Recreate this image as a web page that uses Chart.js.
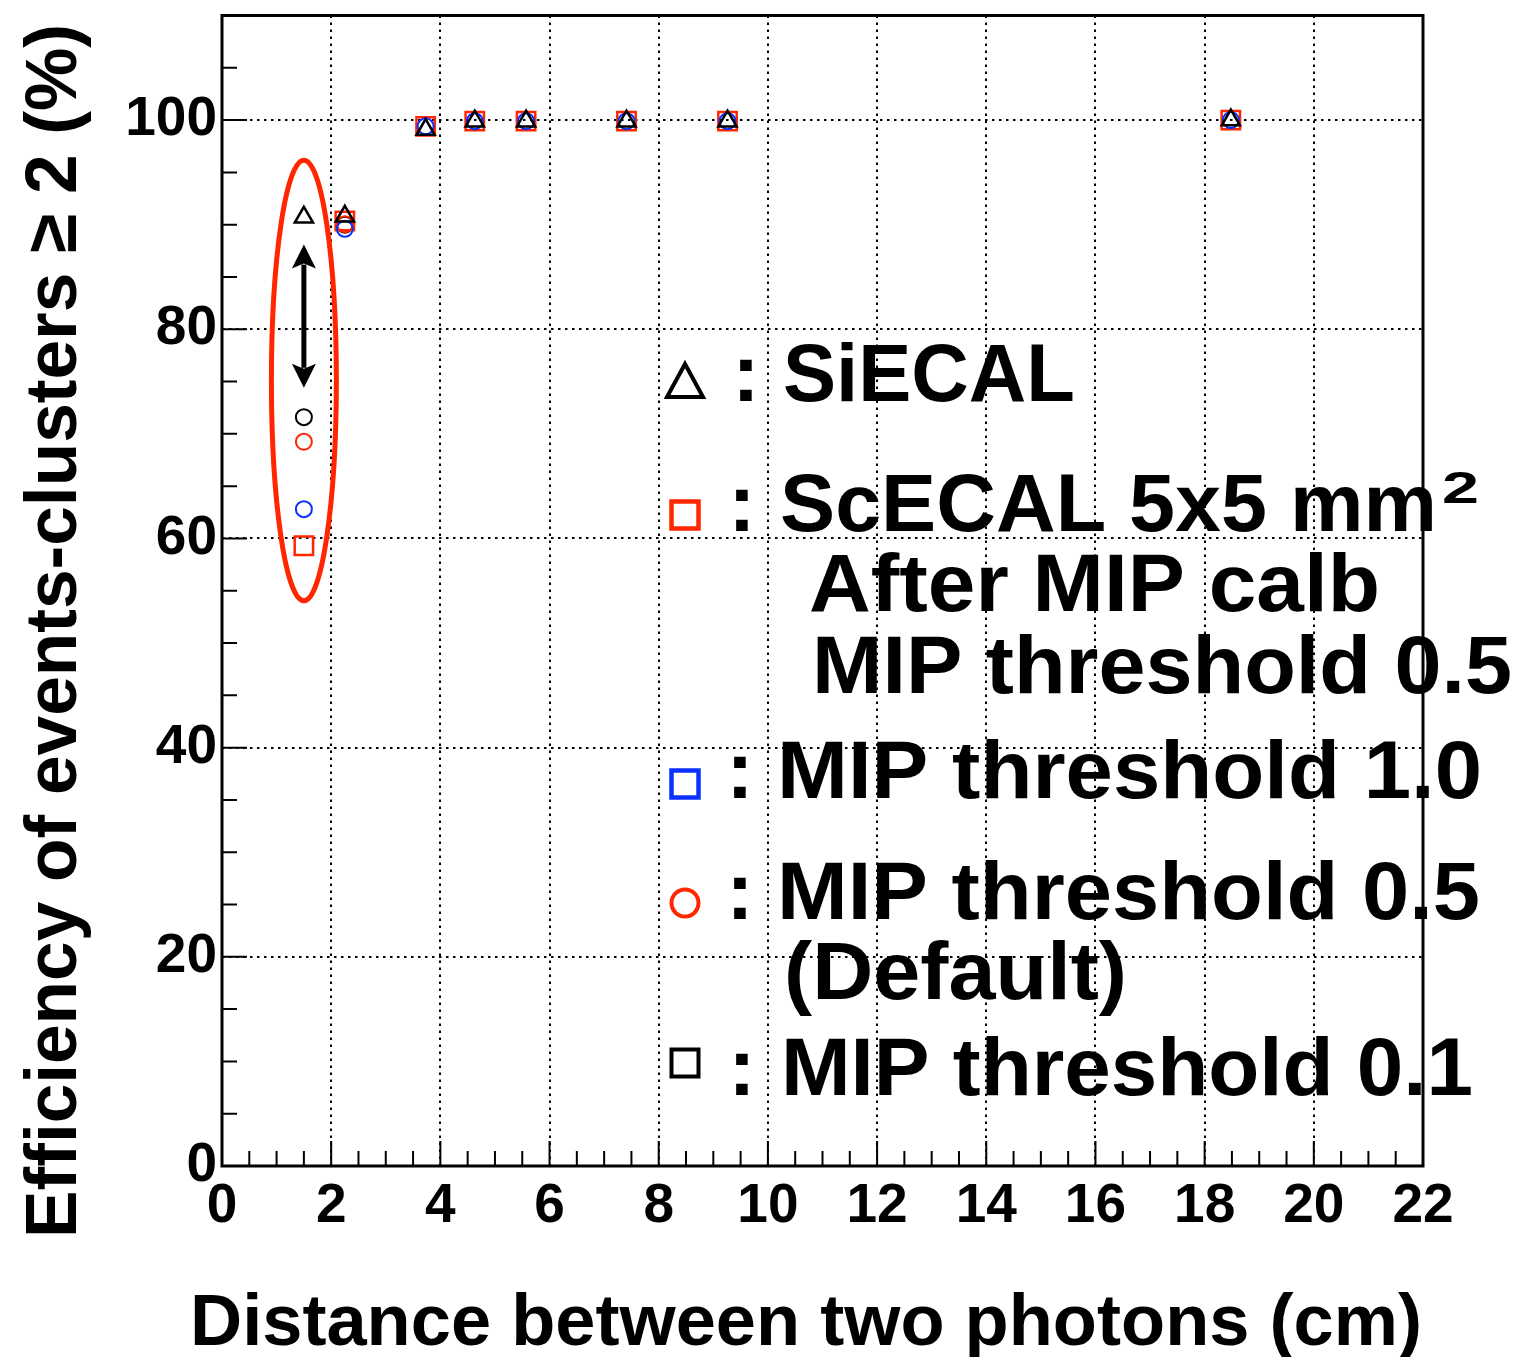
<!DOCTYPE html>
<html><head><meta charset="utf-8">
<script src="https://cdn.jsdelivr.net/npm/chart.js@4/dist/chart.umd.min.js"></script>
<style>html,body{margin:0;padding:0;background:#fff;} canvas{display:block;}</style>
</head><body>
<canvas id="c" width="1520" height="1357"></canvas>
<script>
// ---------- data ----------
const distances = [1.5, 2.25, 3.73, 4.63, 5.57, 7.41, 9.26, 18.48];
const siecal        = [90.7, 90.8, 99.1, 99.9, 99.9, 99.9, 99.9, 100];
const scecalCalib05 = [59.3, 90.35, 99.4, 99.9, 99.9, 99.9, 99.9, 100];
const thr10         = [62.8, 89.6, 99.4, 99.9, 99.9, 99.9, 99.9, 100];
const circleX = [1.5, 2.25];
const thr05   = [69.25, 90.05];
const thr01   = [71.6, 90.0];

const xTicks = [0, 2, 4, 6, 8, 10, 12, 14, 16, 18, 20, 22];
const yTicks = [0, 20, 40, 60, 80, 100];
const xRange = [0, 22];
const yRange = [0, 110];

const xTitle = 'Distance between two photons (cm)';
const yTitle = 'Efficiency of events-clusters \u2265 2 (%)';
const legendTexts = ['SiECAL', 'ScECAL 5x5 mm', 'After MIP calb', 'MIP threshold 0.5',
                     'MIP threshold 1.0', 'MIP threshold 0.5', '(Default)', 'MIP threshold 0.1'];

// highlighted group (data coordinates)
const ellipseCenter = [1.5, 75.1];
const ellipseRadii = [0.595, 21.06];
const arrowX = 1.5;
const arrowEnds = [88.1, 74.4];

// ---------- styles ----------
const FONT = '"Liberation Sans", Arial, sans-serif';
const RED = '#ff2600';
const BLUE = '#0a30ff';
const BLACK = '#000000';

function pts(xs, ys) { return xs.map((x, i) => ({x, y: ys[i]})); }

function fitText(ctx, text, x, y, right) {
  const w = ctx.measureText(text).width;
  const sx = (right - x) / w;
  ctx.save();
  ctx.translate(x, y);
  ctx.scale(sx, 1);
  ctx.textAlign = 'left';
  ctx.fillText(text, 0, 0);
  ctx.restore();
}

const overlay = {
  id: 'overlay',
  afterDatasetsDraw(chart) {
    const {ctx, chartArea: a, scales: {x, y}} = chart;
    ctx.save();
    ctx.strokeStyle = BLACK;
    ctx.lineCap = 'butt';
    // ticks (inward)
    ctx.lineWidth = 2;
    ctx.beginPath();
    for (let i = 0; i <= 44; i++) {
      const v = xRange[0] + i * 0.5;
      const px = x.getPixelForValue(v);
      const len = (i % 4 === 0) ? 25 : 15;
      ctx.moveTo(px, a.bottom); ctx.lineTo(px, a.bottom - len);
    }
    for (let i = 0; i <= 22; i++) {
      const v = yRange[0] + i * 5;
      const py = y.getPixelForValue(v);
      const len = (i % 4 === 0) ? 25 : 15;
      ctx.moveTo(a.left, py); ctx.lineTo(a.left + len, py);
    }
    ctx.stroke();
    // frame
    ctx.lineWidth = 3;
    ctx.strokeRect(a.left, a.top, a.right - a.left, a.bottom - a.top);

    // ellipse
    ctx.strokeStyle = RED;
    ctx.lineWidth = 5;
    ctx.beginPath();
    const ecx = x.getPixelForValue(ellipseCenter[0]);
    const ecy = y.getPixelForValue(ellipseCenter[1]);
    const erx = x.getPixelForValue(ellipseCenter[0] + ellipseRadii[0]) - ecx;
    const ery = ecy - y.getPixelForValue(ellipseCenter[1] + ellipseRadii[1]);
    ctx.ellipse(ecx, ecy, erx, ery, 0, 0, Math.PI * 2);
    ctx.stroke();

    // double arrow
    const ax = x.getPixelForValue(arrowX);
    const ay1 = y.getPixelForValue(arrowEnds[0]);
    const ay2 = y.getPixelForValue(arrowEnds[1]);
    const hl = 24, hw = 12;
    ctx.strokeStyle = BLACK; ctx.fillStyle = BLACK;
    ctx.lineWidth = 5;
    ctx.beginPath(); ctx.moveTo(ax, ay1 + hl - 4); ctx.lineTo(ax, ay2 - hl + 4); ctx.stroke();
    ctx.beginPath(); ctx.moveTo(ax, ay1); ctx.lineTo(ax + hw, ay1 + hl); ctx.lineTo(ax, ay1 + hl - 5); ctx.lineTo(ax - hw, ay1 + hl); ctx.closePath(); ctx.fill();
    ctx.beginPath(); ctx.moveTo(ax, ay2); ctx.lineTo(ax + hw, ay2 - hl); ctx.lineTo(ax, ay2 - hl + 5); ctx.lineTo(ax - hw, ay2 - hl); ctx.closePath(); ctx.fill();
    ctx.restore();
  },
  afterDraw(chart) {
    const ctx = chart.ctx;
    ctx.save();
    ctx.fillStyle = BLACK;
    ctx.textBaseline = 'alphabetic';
    // axis titles
    ctx.font = 'bold 72px ' + FONT;
    fitText(ctx, xTitle, 190, 1345, 1422);
    ctx.save();
    ctx.translate(76, 1238);
    ctx.rotate(-Math.PI / 2);
    ctx.font = 'bold 72px ' + FONT;
    fitText(ctx, yTitle, 0, 0, 1214);
    ctx.restore();

    // legend markers
    ctx.lineJoin = 'miter';
    ctx.strokeStyle = BLACK; ctx.lineWidth = 4;
    ctx.beginPath(); ctx.moveTo(685, 364); ctx.lineTo(703, 397); ctx.lineTo(667, 397); ctx.closePath(); ctx.stroke();
    ctx.strokeStyle = RED; ctx.lineWidth = 4.5;
    ctx.strokeRect(671.5, 501.5, 27, 27);
    ctx.strokeStyle = BLUE;
    ctx.strokeRect(671.5, 770.5, 27, 27);
    ctx.strokeStyle = RED; ctx.lineWidth = 4;
    ctx.beginPath(); ctx.arc(685, 903, 13.5, 0, Math.PI * 2); ctx.stroke();
    ctx.strokeStyle = BLACK; ctx.lineWidth = 4;
    ctx.strokeRect(671.5, 1049.5, 27, 27);

    // legend text
    ctx.font = 'bold 82px ' + FONT;
    ctx.textAlign = 'center';
    ctx.fillText(':', 746, 401);
    ctx.fillText(':', 742, 531);
    ctx.fillText(':', 740, 798);
    ctx.fillText(':', 740, 919);
    ctx.fillText(':', 742, 1095);
    fitText(ctx, legendTexts[0], 783, 401, 1075);
    fitText(ctx, legendTexts[1], 780, 531, 1437);
    fitText(ctx, legendTexts[2], 809, 611, 1380);
    fitText(ctx, legendTexts[3], 812, 693, 1512);
    fitText(ctx, legendTexts[4], 777, 798, 1482);
    fitText(ctx, legendTexts[5], 777, 919, 1480);
    fitText(ctx, legendTexts[6], 784, 999, 1127);
    fitText(ctx, legendTexts[7], 781, 1095, 1473);
    ctx.font = 'bold 44px ' + FONT;
    fitText(ctx, '2', 1442, 503, 1479);
    ctx.restore();
  }
};

const gridColor = (edgeValues) => (c) => (c.tick && edgeValues.includes(c.tick.value)) ? 'rgba(0,0,0,0)' : BLACK;

new Chart(document.getElementById('c').getContext('2d'), {
  type: 'scatter',
  data: {
    datasets: [
      { label: 'SiECAL', data: pts(distances, siecal), pointStyle: 'triangle', pointRadius: 10.5,
        borderColor: BLACK, backgroundColor: 'rgba(0,0,0,0)', borderWidth: 2.5 },
      { label: 'MIP threshold 1.0', data: pts(distances, thr10), pointStyle: 'circle', pointRadius: 8,
        borderColor: BLUE, backgroundColor: 'rgba(0,0,0,0)', borderWidth: 2 },
      { label: 'ScECAL after MIP calib, threshold 0.5', data: pts(distances, scecalCalib05), pointStyle: 'rect', pointRadius: 13,
        borderColor: RED, backgroundColor: 'rgba(0,0,0,0)', borderWidth: 2.5 },
      { label: 'MIP threshold 0.5 (Default)', data: pts(circleX, thr05), pointStyle: 'circle', pointRadius: 8,
        borderColor: RED, backgroundColor: 'rgba(0,0,0,0)', borderWidth: 2 },
      { label: 'MIP threshold 0.1', data: pts(circleX, thr01), pointStyle: 'circle', pointRadius: 8,
        borderColor: BLACK, backgroundColor: 'rgba(0,0,0,0)', borderWidth: 2 }
    ]
  },
  options: {
    responsive: false,
    animation: false,
    events: [],
    layout: { padding: { top: 14, right: 97, left: 0, bottom: 0 } },
    plugins: { legend: { display: false }, tooltip: { enabled: false } },
    scales: {
      x: {
        type: 'linear', min: xRange[0], max: xRange[1],
        afterBuildTicks: s => { s.ticks = xTicks.map(v => ({ value: v })); },
        afterFit: s => { s.height = 191; s.paddingLeft = 0; s.paddingRight = 0; },
        ticks: { font: { family: FONT, size: 55, weight: 'bold' }, color: BLACK, padding: 8, autoSkip: false, maxRotation: 0 },
        grid: { drawTicks: false, lineWidth: 2, color: gridColor([xRange[0], xRange[1]]) },
        border: { display: false, dash: [2.5, 4.5] }
      },
      y: {
        type: 'linear', min: yRange[0], max: yRange[1],
        afterBuildTicks: s => { s.ticks = yTicks.map(v => ({ value: v })); },
        afterFit: s => { s.width = 222; s.paddingTop = 0; s.paddingBottom = 0; },
        ticks: { font: { family: FONT, size: 55, weight: 'bold' }, color: BLACK, padding: 5 },
        grid: { drawTicks: false, lineWidth: 2, color: gridColor([yRange[0], yRange[1]]) },
        border: { display: false, dash: [2.5, 4.5] }
      }
    }
  },
  plugins: [overlay]
});
</script>
</body></html>
